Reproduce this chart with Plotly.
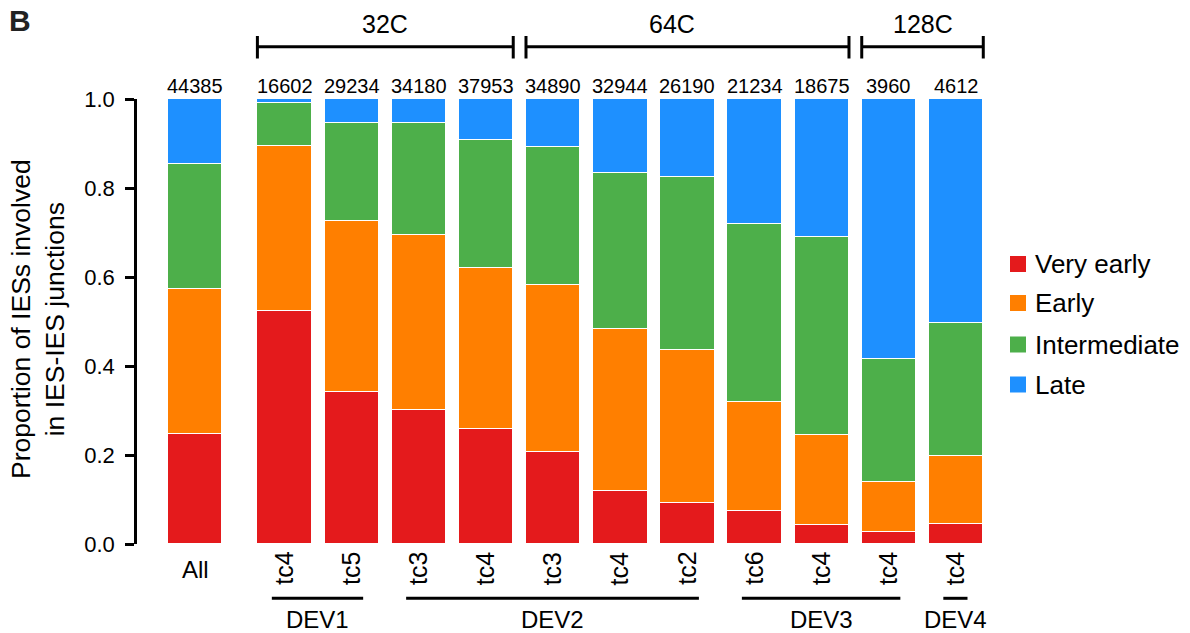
import plotly.graph_objects as go

# ---- data -------------------------------------------------------------
bar_labels = ["All", "tc4", "tc5", "tc3", "tc4", "tc3", "tc4", "tc2",
              "tc6", "tc4", "tc4", "tc4"]
ies_counts = [44385, 16602, 29234, 34180, 37953, 34890, 32944, 26190,
              21234, 18675, 3960, 4612]

very_early = [0.248, 0.524, 0.341, 0.301, 0.259, 0.207, 0.120, 0.093,
              0.074, 0.042, 0.028, 0.046]
early = [0.326, 0.370, 0.384, 0.393, 0.361, 0.376, 0.364, 0.343,
         0.246, 0.203, 0.112, 0.152]
intermediate = [0.279, 0.096, 0.221, 0.253, 0.287, 0.309, 0.349, 0.389,
                0.399, 0.446, 0.276, 0.299]
late = [0.147, 0.010, 0.054, 0.053, 0.093, 0.108, 0.167, 0.175,
        0.281, 0.309, 0.584, 0.503]

series_names = ["Very early", "Early", "Intermediate", "Late"]
series_values = [very_early, early, intermediate, late]

# cell-stage groups (first, last bar index) and developmental stages
stage_groups = [("32C", 1, 4), ("64C", 5, 9), ("128C", 10, 11)]
dev_groups = [("DEV1", 1, 2), ("DEV2", 3, 7), ("DEV3", 8, 10), ("DEV4", 11, 11)]

# ---- styling / layout -------------------------------------------------
colors = ["#E41A1C", "#FF7F00", "#4DAF4A", "#1E90FF"]
FONT = "Liberation Sans, Arial, Helvetica, sans-serif"
W, H = 1190, 633
ML, MR, MT, MB = 137, 199, 99, 89
PW, PH = W - ML - MR, H - MT - MB
BAR_W = 0.81
X_MIN, X_MAX = -0.868, 11.85

# "All" sits apart from the time-course bars
xpos = [0.0] + [1.33 + i for i in range(len(bar_labels) - 1)]


def px(xd):
    """data x -> paper x"""
    return (xd - X_MIN) / (X_MAX - X_MIN)


def py(ypix):
    """pixel row -> paper y"""
    return (H - MB - ypix) / PH


def pxp(xpix):
    """pixel column -> paper x"""
    return (xpix - ML) / PW


fig = go.Figure()
for name, vals, col in zip(series_names, series_values, colors):
    fig.add_trace(go.Bar(
        x=xpos, y=vals, name=name, width=BAR_W,
        marker=dict(color=col, line=dict(color="white", width=1.5)),
        showlegend=False,
    ))

annotations = []
shapes = []

# totals above bars
for x, n in zip(xpos, ies_counts):
    annotations.append(dict(x=x, y=py(86), xref="x", yref="paper", text=str(n),
                            showarrow=False, xanchor="center", yanchor="middle",
                            font=dict(size=20, color="black", family=FONT)))

# category labels below bars
for i, (x, lab) in enumerate(zip(xpos, bar_labels)):
    if i == 0:
        annotations.append(dict(x=x, y=py(569), xref="x", yref="paper", text=lab,
                                showarrow=False, xanchor="center", yanchor="middle",
                                font=dict(size=24, color="black", family=FONT)))
    else:
        annotations.append(dict(x=x - 0.02, y=py(550), xref="x", yref="paper", text=lab,
                                textangle=-90, showarrow=False, xanchor="center",
                                yanchor="top",
                                font=dict(size=25, color="black", family=FONT)))

# developmental stage underlines
for name, a, b in dev_groups:
    x0, x1 = xpos[a] - 0.19, xpos[b] + 0.17
    shapes.append(dict(type="line", xref="paper", yref="paper",
                       x0=px(x0), x1=px(x1), y0=py(598.3), y1=py(598.3),
                       line=dict(color="black", width=3)))
    annotations.append(dict(x=(x0 + x1) / 2, y=py(619), xref="x", yref="paper",
                            text=name, showarrow=False, xanchor="center",
                            yanchor="middle",
                            font=dict(size=24, color="black", family=FONT)))

# cell-stage brackets
label_centres = {"32C": None, "64C": 7.10, "128C": None}
for name, a, b in stage_groups:
    x0, x1 = xpos[a] - BAR_W / 2, xpos[b] + BAR_W / 2
    shapes.append(dict(type="line", xref="paper", yref="paper",
                       x0=px(x0), x1=px(x1), y0=py(46.7), y1=py(46.7),
                       line=dict(color="black", width=3)))
    for xe in (x0, x1):
        shapes.append(dict(type="line", xref="paper", yref="paper",
                           x0=px(xe), x1=px(xe), y0=py(36), y1=py(58.5),
                           line=dict(color="black", width=3)))
    xc = label_centres[name] if label_centres[name] is not None else (x0 + x1) / 2
    annotations.append(dict(x=xc, y=py(24), xref="x", yref="paper", text=name,
                            showarrow=False, xanchor="center", yanchor="middle",
                            font=dict(size=25, color="black", family=FONT)))

# legend
legend_rows = [264, 303, 344.5, 384.5]
for name, col, yc in zip(series_names, colors, legend_rows):
    shapes.append(dict(type="rect", xref="paper", yref="paper",
                       x0=pxp(1010), x1=pxp(1026), y0=py(yc - 8), y1=py(yc + 8),
                       fillcolor=col, line=dict(width=0)))
    annotations.append(dict(x=pxp(1033), y=py(yc), xref="paper", yref="paper",
                            text=name, showarrow=False, xanchor="left",
                            yanchor="middle",
                            font=dict(size=26, color="black", family=FONT)))

# panel letter
annotations.append(dict(x=pxp(7), y=py(2), xref="paper", yref="paper", text="<b>B</b>",
                        showarrow=False, xanchor="left", yanchor="top",
                        font=dict(size=30, color="#222222", family=FONT)))

# y-axis title
annotations.append(dict(x=pxp(38), y=py(319), xref="paper", yref="paper",
                        text="Proportion of IESs involved<br>in IES-IES junctions",
                        textangle=-90, showarrow=False, xanchor="center",
                        yanchor="middle",
                        font=dict(size=26.5, color="black", family=FONT)))

fig.update_layout(
    barmode="stack",
    width=W, height=H,
    margin=dict(l=ML, r=MR, t=MT, b=MB, pad=0),
    paper_bgcolor="white", plot_bgcolor="white",
    font=dict(family=FONT, color="black"),
    xaxis=dict(range=[X_MIN, X_MAX], visible=False, fixedrange=True),
    yaxis=dict(range=[0, 1], tickvals=[0, 0.2, 0.4, 0.6, 0.8, 1.0],
               ticktext=["0.0", "0.2", "0.4", "0.6", "0.8", "1.0"],
               showline=True, linecolor="black", linewidth=2.5,
               ticks="outside", ticklen=9, tickwidth=2.5, tickcolor="black",
               tickfont=dict(size=22, color="black", family=FONT),
               showgrid=False, zeroline=False, automargin=False,
               ticklabelstandoff=6),
    annotations=annotations,
    shapes=shapes,
    bargap=0,
)

fig.write_html("out.html")
